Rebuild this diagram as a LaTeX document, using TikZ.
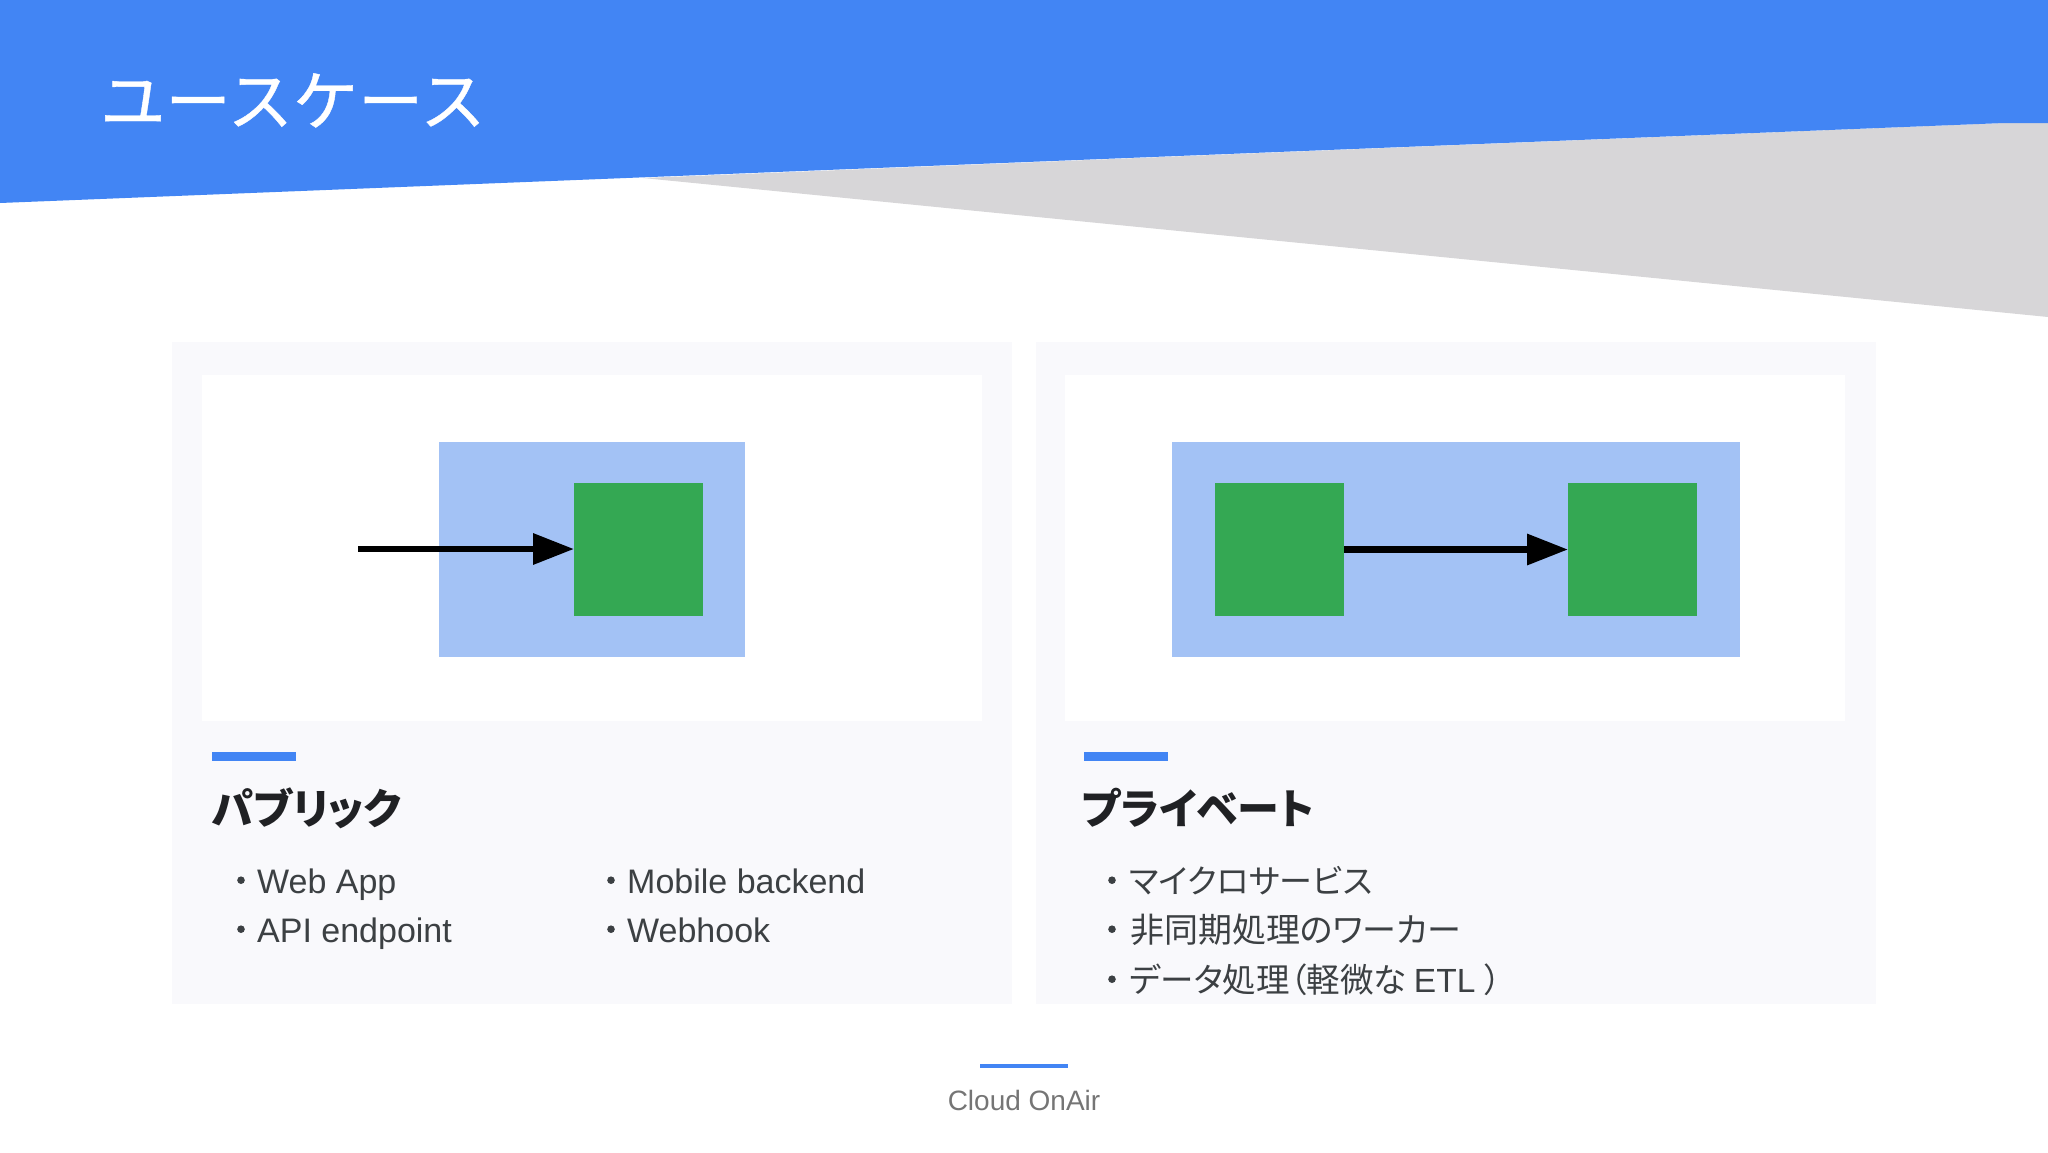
\documentclass[tikz,border=0pt]{standalone}
\usepackage{fontspec}
\setmainfont{Liberation Sans}
\newfontfamily\jpfont{Noto Sans CJK JP}
\newfontfamily\jptight[RawFeature={+palt}]{Noto Sans CJK JP}
\newfontfamily\jptitle[FakeBold=0.6]{Noto Sans CJK JP}
\usetikzlibrary{arrows.meta}
\usetikzlibrary{positioning}
\definecolor{gblue}{HTML}{4285F4}
\definecolor{gsilver}{HTML}{D7D6D8}
\definecolor{gcard}{HTML}{F9F9FC}
\definecolor{gpale}{HTML}{A3C2F5}
\definecolor{ggreen}{HTML}{34A853}
\definecolor{gtext}{HTML}{3C4043}
\definecolor{ghead}{HTML}{202124}
\definecolor{gfoot}{HTML}{757575}
\tikzset{
box/.style={inner sep=0pt,outer sep=0pt,minimum width=#1},
card/.style={box=840pt,fill=gcard,minimum height=662pt,anchor=north west},
panel/.style={box=780pt,fill=white,minimum height=346pt,anchor=north west},
vpc/.style={box=#1,fill=gpale,minimum height=215pt,anchor=north west},
fn/.style={box=129pt,fill=ggreen,minimum height=133pt,anchor=north west},
accent/.style={box=84pt,fill=gblue,minimum height=9pt,anchor=north west},
heading/.style={inner sep=0pt,anchor=base west,text=ghead,font=\jptight\bfseries\fontsize{42}{42}\selectfont},
bullet/.style={inner sep=0pt,anchor=base west,text=gtext,font=\fontsize{34}{34}\selectfont},
flow/.style={line width=6.5pt,-{Triangle[length=41pt,width=30pt]}},
}
\newcommand{\dotitem}{\makebox[20pt][l]{\raisebox{9pt}{\tikz\fill (0,0) circle (3.8pt);}}}
\begin{document}
\begin{tikzpicture}[x=1pt,y=-1pt]
\useasboundingbox (0,0) rectangle (2048,1152);
% banner
\fill[gsilver] (643,178) -- (2004,123) -- (2048,123) -- (2048,317) -- cycle;
\fill[gblue] (0,0) -- (2048,0) -- (2048,123) -- (2004,123) -- (0,203) -- cycle;
\node[inner sep=0pt,anchor=base west,text=white,font=\jptitle\fontsize{65.3}{65.3}\selectfont] (title) at (100,125) {ユースケース};
% left card
\node[card] (cardl) at (172,342) {};
\node[panel] (panell) at (202,375) {};
\node[vpc=306pt] (vpcl) at (439,442) {};
\node[fn] (fnl) at (574,483) {};
\coordinate (inl) at (358,549);
\draw[flow] (inl) -- (inl -| fnl.west);
\node[accent] (barl) at (212,752) {};
\node[heading] (headl) at (212,824) {パブリック};
\node[bullet] (webapp) at (237,893) {\dotitem Web App};
\node[bullet] (api) at (237,942) {\dotitem API endpoint};
\node[bullet] (mobile) at (607,893) {\dotitem Mobile backend};
\node[bullet] (webhook) at (607,942) {\dotitem Webhook};
% right card
\node[card] (cardr) at (1036,342) {};
\node[panel] (panelr) at (1065,375) {};
\node[vpc=568pt] (vpcr) at (1172,442) {};
\node[fn] (fna) at (1215,483) {};
\node[fn] (fnb) at (1568,483) {};
\draw[flow] (fna) -- (fnb);
\node[accent] (barr) at (1084,752) {};
\node[heading] (headr) at (1082,824) {プライベート};
\node[bullet] (micro) at (1108,893) {\dotitem\hspace{1pt}\jptight\fontsize{33}{33}\selectfont マイクロサービス};
\node[bullet] (worker) at (1108,942) {\dotitem\hspace{2pt}\jptight 非同期処理のワーカー};
\node[bullet] (etl) at (1108,992) {\dotitem\hspace{1pt}\jptight\fontsize{33.5}{33.5}\selectfont データ処理（軽微な \rmfamily ETL \jptight）};
% footer
\node[box=88pt,fill=gblue,minimum height=4pt] (footbar) at (1024,1066) {};
\node[inner sep=0pt,text=gfoot,font=\fontsize{28}{28}\selectfont,below=22pt of footbar] (foot) {Cloud OnAir};
\end{tikzpicture}
\end{document}
